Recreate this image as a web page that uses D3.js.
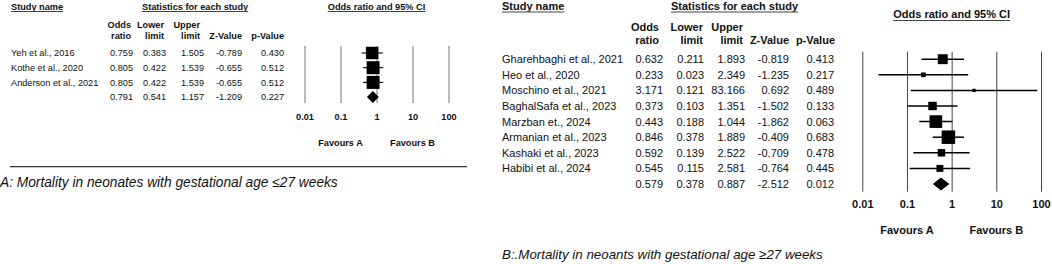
<!DOCTYPE html>
<html><head><meta charset="utf-8">
<script src="https://cdn.jsdelivr.net/npm/d3@7"></script>
<style>
html,body{margin:0;padding:0;background:#fff;}
svg{display:block;}
text{font-family:"Liberation Sans",Arial,sans-serif;fill:#111;}
</style></head>
<body>
<svg id="chart" width="1052" height="264"></svg>
<script>
// ---------- DATA ----------
const tickValues = [0.01, 0.1, 1, 10, 100];
const tickLabels = ["0.01", "0.1", "1", "10", "100"];

// Panel A
const studiesA = ["Yeh et al., 2016", "Kothe et al., 2020", "Anderson et al., 2021"];
const orA      = [0.759, 0.805, 0.805];
const lowerA   = [0.383, 0.422, 0.422];
const upperA   = [1.505, 1.539, 1.539];
const zA       = [-0.789, -0.655, -0.655];
const pA       = [0.430, 0.512, 0.512];
const weightA  = [31.5, 34.2, 34.2];
const summaryA = {or: 0.791, lower: 0.541, upper: 1.157, z: -1.209, p: 0.227};
const captionA = "A: Mortality in neonates with gestational age \u226427 weeks";

// Panel B
const studiesB = ["Gharehbaghi et al., 2021", "Heo et al., 2020", "Moschino et al., 2021",
  "BaghalSafa et al., 2023", "Marzban et., 2024", "Armanian et al., 2023",
  "Kashaki et al., 2023", "Habibi et al., 2024"];
const orB    = [0.632, 0.233, 3.171, 0.373, 0.443, 0.846, 0.592, 0.545];
const lowerB = [0.211, 0.023, 0.121, 0.103, 0.188, 0.378, 0.139, 0.115];
const upperB = [1.893, 2.349, 83.166, 1.351, 1.044, 1.889, 2.522, 2.581];
const zB     = [-0.819, -1.235, 0.692, -1.502, -1.862, -0.409, -0.709, -0.764];
const pB     = [0.413, 0.217, 0.489, 0.133, 0.063, 0.683, 0.478, 0.445];
const weightB = [15.1, 3.4, 1.7, 11.0, 24.7, 28.0, 8.6, 7.5];
const summaryB = {or: 0.579, lower: 0.378, upper: 0.887, z: -2.512, p: 0.012};
const captionB = "B:.Mortality in neoants with gestational age \u226527 weeks";

const colHeaders = [["Odds", "ratio"], ["Lower", "limit"], ["Upper", "limit"], ["", "Z-Value"], ["", "p-Value"]];

// ---------- DRAW ----------
const svg = d3.select("#chart");
const f3 = v => d3.format(".3f")(v).replace("\u2212", "-");

function underlinedText(g, txt, x, yc, fs, anchor, ulY, color) {
  const t = g.append("text").attr("x", x).attr("y", yc + fs * 0.36)
    .attr("text-anchor", anchor).attr("font-size", fs).attr("font-weight", "bold").text(txt);
  const w = t.node().getComputedTextLength();
  const x0 = anchor === "middle" ? x - w / 2 : (anchor === "end" ? x - w : x);
  g.append("line").attr("x1", x0).attr("x2", x0 + w).attr("y1", ulY).attr("y2", ulY)
    .attr("stroke", color).attr("stroke-width", 1);
}

function drawPanel(c) {
  const g = svg.append("g");
  const fs = c.fs;
  const capOff = fs * 0.36;
  // headers
  underlinedText(g, "Study name", c.nameX, c.headY, fs, "start", c.ulY, c.ulColor);
  underlinedText(g, "Statistics for each study", c.statX, c.headY, fs, "start", c.ulY, c.ulColor);
  underlinedText(g, "Odds ratio and 95% CI", (c.range[0] + c.range[1]) / 2, c.ciHeadY, fs, "middle", c.ciUlY, c.ulColor);
  colHeaders.forEach((h, i) => {
    h.forEach((line, j) => {
      if (!line) return;
      g.append("text").attr("x", c.headCols[i]).attr("y", c.colHeadY[j] + capOff)
        .attr("text-anchor", "end").attr("font-size", fs).attr("font-weight", "bold").text(line);
    });
  });

  const n = c.studies.length;
  const rowY = i => c.row0 + i * c.rowStep;
  const x = d3.scaleLog().domain([0.01, 100]).range(c.range);

  // grid via axis
  const axis = d3.axisBottom(x).tickValues(tickValues)
    .tickFormat((d, i) => tickLabels[i])
    .tickSize(-(c.gridBottom - c.gridTop)).tickPadding(c.tickPad);
  const ag = g.append("g").attr("transform", `translate(0,${c.gridBottom})`).call(axis);
  ag.select(".domain").remove();
  ag.selectAll(".tick line").attr("stroke", c.gridColor).attr("stroke-width", 1);
  ag.selectAll(".tick text").attr("font-size", fs).attr("font-weight", "bold")
    .attr("font-family", '"Liberation Sans",Arial,sans-serif').attr("fill", "#111");

  // table rows
  const cols = [c.or, c.lower, c.upper, c.z, c.p];
  for (let i = 0; i < n; i++) {
    g.append("text").attr("x", c.nameX).attr("y", rowY(i) + capOff).attr("font-size", fs).text(c.studies[i]);
    cols.forEach((arr, k) => {
      g.append("text").attr("x", c.valCols[k]).attr("y", rowY(i) + capOff)
        .attr("text-anchor", "end").attr("font-size", fs).text(f3(arr[i]));
    });
  }
  const s = c.summary;
  [s.or, s.lower, s.upper, s.z, s.p].forEach((v, k) => {
    g.append("text").attr("x", c.valCols[k]).attr("y", rowY(n) + capOff)
      .attr("text-anchor", "end").attr("font-size", fs).text(f3(v));
  });

  // CI lines and boxes
  const maxW = d3.max(c.weight);
  const side = d3.scaleSqrt().domain([0, maxW]).range([0, c.maxBox]);
  const idx = d3.range(n);
  g.selectAll(".ci").data(idx).join("line")
    .attr("x1", i => x(c.lower[i])).attr("x2", i => x(c.upper[i]))
    .attr("y1", i => rowY(i)).attr("y2", i => rowY(i))
    .attr("stroke", "#000").attr("stroke-width", c.ciW);
  g.selectAll(".box").data(idx).join("rect")
    .attr("x", i => x(c.or[i]) - side(c.weight[i]) / 2)
    .attr("y", i => rowY(i) - side(c.weight[i]) / 2)
    .attr("width", i => side(c.weight[i])).attr("height", i => side(c.weight[i]))
    .attr("fill", "#000");
  // diamond
  const yd = rowY(n);
  g.append("path").attr("d",
    `M${x(s.lower)},${yd} L${x(s.or)},${yd - c.diaH} L${x(s.upper)},${yd} L${x(s.or)},${yd + c.diaH} Z`)
    .attr("fill", "#000");

  // favours labels
  g.append("text").attr("x", x(0.1)).attr("y", c.favY + capOff).attr("text-anchor", "middle")
    .attr("font-size", fs).attr("font-weight", "bold").text("Favours A");
  g.append("text").attr("x", x(10)).attr("y", c.favY + capOff).attr("text-anchor", "middle")
    .attr("font-size", fs).attr("font-weight", "bold").text("Favours B");

  // separator line
  if (c.sepY) {
    g.append("line").attr("x1", c.sepX[0]).attr("x2", c.sepX[1]).attr("y1", c.sepY).attr("y2", c.sepY)
      .attr("stroke", "#333").attr("stroke-width", 1.3);
  }
  // caption
  const cap = g.append("text").attr("x", c.capX).attr("y", c.capY)
    .attr("font-family", "Lato, 'Open Sans', sans-serif").attr("font-style", "italic")
    .attr("font-size", 13).attr("fill", "#111").text(c.caption);
  const w = cap.node().getComputedTextLength();
  cap.attr("font-size", 13 * c.capW / w);
}

drawPanel({
  studies: studiesA, or: orA, lower: lowerA, upper: upperA, z: zA, p: pA, weight: weightA,
  summary: summaryA, caption: captionA,
  fs: 9.2, nameX: 11, statX: 142, headY: 6.8, ulY: 11.5, ciHeadY: 6.8, ciUlY: 11.5, ulColor: "#444",
  headCols: [131, 164, 200, 242, 284], colHeadY: [25, 36],
  valCols: [133, 166, 204, 242, 284],
  row0: 53, rowStep: 14.7,
  range: [304.5, 448.5], gridTop: 46, gridBottom: 103, gridColor: "#777", tickPad: 10.5,
  maxBox: 13, ciW: 1.1, diaH: 6,
  favY: 143, sepY: 166.7, sepX: [10, 467],
  capX: 0, capY: 187, capW: 338
});

drawPanel({
  studies: studiesB, or: orB, lower: lowerB, upper: upperB, z: zB, p: pB, weight: weightB,
  summary: summaryB, caption: captionB,
  fs: 11, nameX: 502, statX: 671, headY: 6.5, ulY: 12, ciHeadY: 14.5, ciUlY: 20.5, ulColor: "#444",
  headCols: [659, 703, 743, 789, 835], colHeadY: [27.3, 40],
  valCols: [663, 704, 745, 789, 834],
  row0: 59.2, rowStep: 15.6,
  range: [862.3, 1041], gridTop: 51.7, gridBottom: 191.7, gridColor: "#444", tickPad: 8.5,
  maxBox: 13.5, ciW: 1.5, diaH: 6.5,
  favY: 230, sepY: null,
  capX: 502, capY: 259, capW: 321
});
</script>
</body></html>
